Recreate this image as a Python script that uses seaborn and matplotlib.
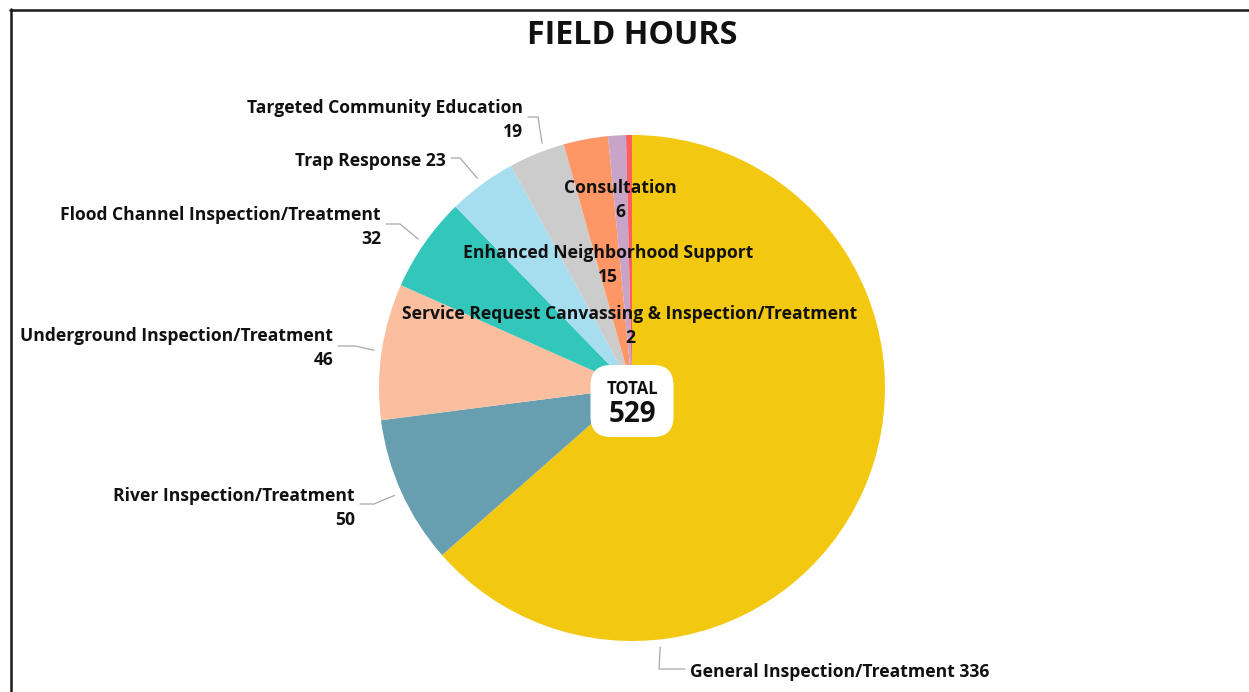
import numpy as np
import matplotlib
matplotlib.use("Agg")
import matplotlib.pyplot as plt
import seaborn as sns
from matplotlib.patches import FancyBboxPatch
from matplotlib.lines import Line2D

# data, clockwise from 12 o'clock
categories = [
    "General Inspection/Treatment",
    "River Inspection/Treatment",
    "Underground Inspection/Treatment",
    "Flood Channel Inspection/Treatment",
    "Trap Response",
    "Targeted Community Education",
    "Enhanced Neighborhood Support",
    "Consultation",
    "Service Request Canvassing & Inspection/Treatment",
]
hours = [336, 50, 46, 32, 23, 19, 15, 6, 2]
colors = ["#F2C811", "#689FB0", "#FBBFA0", "#33C6BB", "#A6DDEF",
          "#CCCCCC", "#FE9666", "#C8A4C8", "#FF5F5F"]

sns.set_theme(style="white")
plt.rcParams["font.family"] = ["Open Sans", "DejaVu Sans"]

W, H = 1249, 692
fig = plt.figure(figsize=(W / 100, H / 100), dpi=100)
fig.patch.set_facecolor("white")

# pie box in pixels: centre (632, 388), radius 253
cx, cy, R = 632, 388, 253
ax = fig.add_axes([(cx - R) / W, (H - cy - R) / H, 2 * R / W, 2 * R / H])
wedges, _ = ax.pie(hours, colors=colors, startangle=90, counterclock=False,
                   radius=1, wedgeprops=dict(linewidth=0))
ax.set_xlim(-1, 1)
ax.set_ylim(-1, 1)
ax.axis("off")


def d(x, y):
    # pixel position -> pie data coordinates
    return (x - cx) / R, (cy - y) / R


lab_kw = dict(fontsize=12.6, fontweight="bold", color="#111111", linespacing=1.38)

# outer labels: (index, text, text anchor px, ha, elbow px, where in wedge)
outer = [
    (5, "Targeted Community Education\n19", (523, 120), "right", (538, 117), 0.65),
    (4, "Trap Response 23", (446, 161), "right", (460, 158), 0.5),
    (3, "Flood Channel Inspection/Treatment\n32", (381, 227), "right", (400, 224), 0.5),
    (2, "Underground Inspection/Treatment\n46", (333, 348), "right", (355, 346), 0.5),
    (1, "River Inspection/Treatment\n50", (355, 508), "right", (374, 504), 0.5),
    (0, "General Inspection/Treatment 336", (690, 672), "left", (659, 669), 0.76),
]
for i, txt, (tx, ty), ha, (ex, ey), frac in outer:
    w = wedges[i]
    # wedges run clockwise, so measure from theta2
    ang = np.deg2rad(w.theta2 - frac * (w.theta2 - w.theta1))
    px, py = 1.03 * np.cos(ang), 1.03 * np.sin(ang)
    e = d(ex, ey)
    hx = tx + (5 if ha == "right" else -5)
    h = d(hx, ey)
    ax.add_line(Line2D([px, e[0], h[0]], [py, e[1], h[1]], color="#A8A8A8",
                       linewidth=0.9, clip_on=False))
    ax.text(*d(tx, ty), txt, ha=ha, va="center", multialignment=ha,
            clip_on=False, **lab_kw)

# inner labels drawn over the pie
inner = [
    (7, "Consultation\n6", (620, 200)),
    (6, "Enhanced Neighborhood Support\n15", (608, 265)),
    (8, "Service Request Canvassing & Inspection/Treatment\n2", (630, 326)),
]
for i, txt, (tx, ty) in inner:
    ax.text(*d(tx, ty), txt, ha="center", va="center", multialignment="center",
            clip_on=False, **lab_kw)

# total badge
bw, bh = 83 / R, 72 / R
bx, by = d(632, 401)
badge = FancyBboxPatch((bx - bw / 2 + 0.08, by - bh / 2 + 0.08), bw - 0.16, bh - 0.16,
                       boxstyle="round,pad=0.08", facecolor="white",
                       edgecolor="none", zorder=5)
ax.add_patch(badge)
ax.text(*d(632, 389), "TOTAL", ha="center", va="center", fontsize=12,
        fontweight="bold", color="#111111", zorder=6)
ax.text(*d(632, 414), str(sum(hours)), ha="center", va="center", fontsize=20,
        fontweight="bold", color="#111111", zorder=6)

fig.text(632 / W, 1 - 35 / H, "FIELD HOURS", ha="center", va="center",
         fontsize=23.2, fontweight="bold", color="#111111")

# frame on the left and top edges
fig.add_artist(Line2D([10.5 / W, 10.5 / W], [0, 1 - 9 / H], color="#1a1a1a",
                      linewidth=1.8, transform=fig.transFigure))
fig.add_artist(Line2D([10 / W, 1], [1 - 9.5 / H, 1 - 9.5 / H], color="#1a1a1a",
                      linewidth=1.8, transform=fig.transFigure))

fig.savefig("out.png", dpi=100)
